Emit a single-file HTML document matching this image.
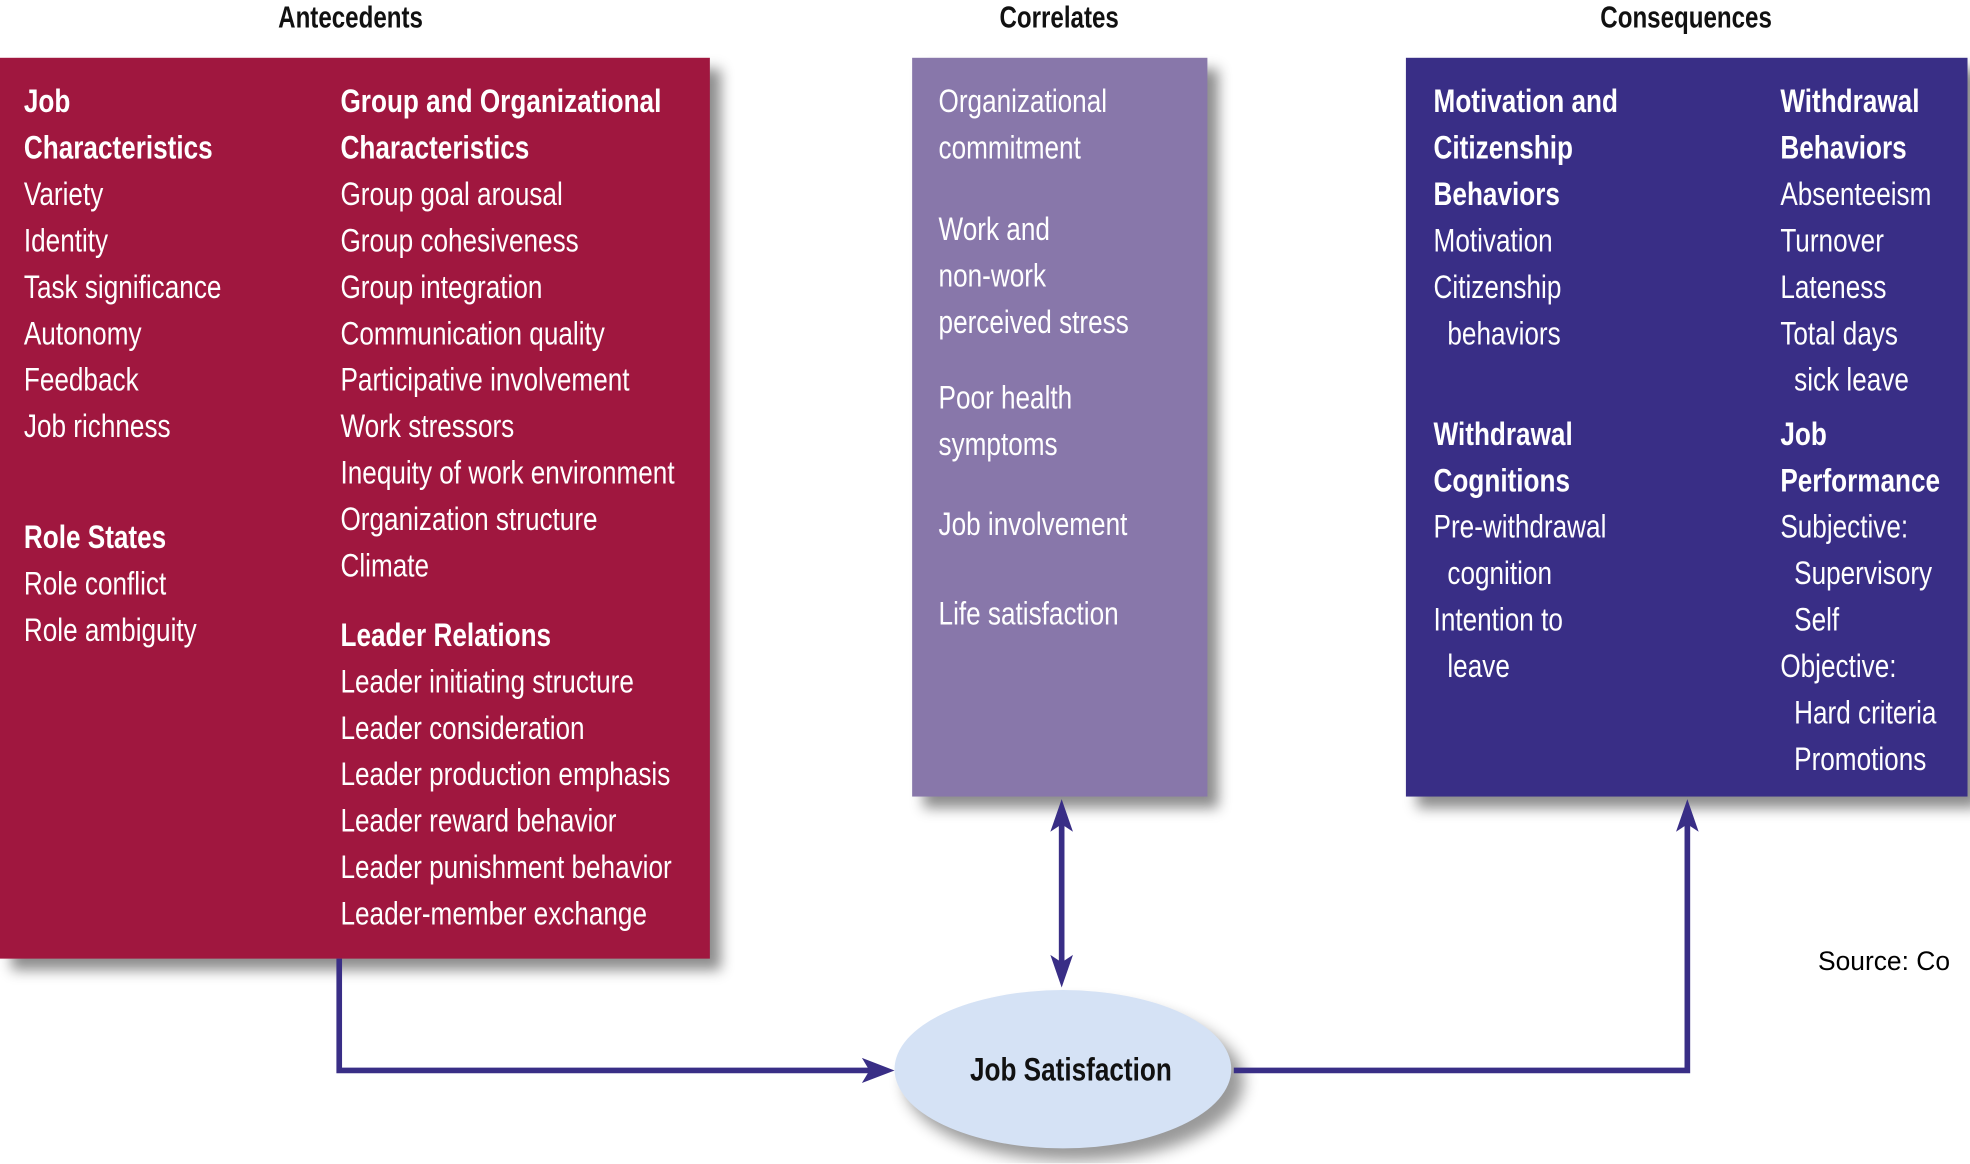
<!DOCTYPE html>
<html><head><meta charset="utf-8"><style>
html,body{margin:0;padding:0;background:#fff;overflow:hidden}
#wrap{position:absolute;left:0;top:0;width:1568px;height:926px;transform:scale(1.2564);transform-origin:0 0;font-family:"Liberation Sans Narrow","Liberation Sans",sans-serif}
.box{position:absolute;box-shadow:9px 9px 10px rgba(0,0,0,.45)}
.t{position:absolute;white-space:nowrap;color:#fff;font-size:26px;line-height:30px;transform:scaleX(.8);transform-origin:0 50%}
.b{font-weight:bold}
.h{position:absolute;white-space:nowrap;font-size:24px;font-weight:bold;color:#111;transform:translateX(-50%) scaleX(.8);}
</style></head><body><div id="wrap">
<div class="h" style="left:279px;top:1px">Antecedents</div>
<div class="h" style="left:843px;top:1px">Correlates</div>
<div class="h" style="left:1342px;top:1px">Consequences</div>

<div class="box" style="left:0;top:46px;width:565px;height:717px;background:#a0173f"></div>
<div class="box" style="left:726px;top:46px;width:235px;height:588px;background:#8877aa"></div>
<div class="box" style="left:1119px;top:46px;width:447px;height:588px;background:#392e86"></div>

<svg style="position:absolute;left:0;top:0" width="1568" height="926">
<defs><filter id="sh" x="-20%" y="-20%" width="150%" height="150%"><feGaussianBlur stdDeviation="6"/></filter></defs>
<ellipse cx="855" cy="861" rx="135" ry="63" fill="#000" opacity=".4" filter="url(#sh)"/>
<ellipse cx="846" cy="851" rx="134" ry="63" fill="#d5e2f5"/>
<g stroke="#392e86" stroke-width="4.5" fill="none">
<polyline points="270,763 270,852 695,852"/>
<line x1="845" y1="652" x2="845" y2="770"/>
<polyline points="982,852 1343,852 1343,652"/>
</g>
<g fill="#392e86">
<polygon points="712,852 686,842 692,852 686,862"/>
<polygon points="845,636 836,662 845,656 854,662"/>
<polygon points="845,786 836,760 845,766 854,760"/>
<polygon points="1343,636 1334,662 1343,656 1352,662"/>
</g>
</svg>
<div class="t b" style="left:772px;top:836px;color:#111;font-size:26px">Job Satisfaction</div>
<div style="position:absolute;left:1447px;top:754px;font-family:'Liberation Sans',sans-serif;font-size:21px;color:#000;white-space:nowrap">Source: Co</div>

<!-- red left col -->
<div class="t b" style="left:19px;top:65px">Job</div>
<div class="t b" style="left:19px;top:102px">Characteristics</div>
<div class="t" style="left:19px;top:139px">Variety</div>
<div class="t" style="left:19px;top:176px">Identity</div>
<div class="t" style="left:19px;top:213px">Task significance</div>
<div class="t" style="left:19px;top:250px">Autonomy</div>
<div class="t" style="left:19px;top:287px">Feedback</div>
<div class="t" style="left:19px;top:324px">Job richness</div>
<div class="t b" style="left:19px;top:412px">Role States</div>
<div class="t" style="left:19px;top:449px">Role conflict</div>
<div class="t" style="left:19px;top:486px">Role ambiguity</div>
<!-- red right col -->
<div class="t b" style="left:271px;top:65px">Group and Organizational</div>
<div class="t b" style="left:271px;top:102px">Characteristics</div>
<div class="t" style="left:271px;top:139px">Group goal arousal</div>
<div class="t" style="left:271px;top:176px">Group cohesiveness</div>
<div class="t" style="left:271px;top:213px">Group integration</div>
<div class="t" style="left:271px;top:250px">Communication quality</div>
<div class="t" style="left:271px;top:287px">Participative involvement</div>
<div class="t" style="left:271px;top:324px">Work stressors</div>
<div class="t" style="left:271px;top:361px">Inequity of work environment</div>
<div class="t" style="left:271px;top:398px">Organization structure</div>
<div class="t" style="left:271px;top:435px">Climate</div>
<div class="t b" style="left:271px;top:490px">Leader Relations</div>
<div class="t" style="left:271px;top:527px">Leader initiating structure</div>
<div class="t" style="left:271px;top:564px">Leader consideration</div>
<div class="t" style="left:271px;top:601px">Leader production emphasis</div>
<div class="t" style="left:271px;top:638px">Leader reward behavior</div>
<div class="t" style="left:271px;top:675px">Leader punishment behavior</div>
<div class="t" style="left:271px;top:712px">Leader-member exchange</div>
<!-- purple -->
<div class="t" style="left:747px;top:65px">Organizational</div>
<div class="t" style="left:747px;top:102px">commitment</div>
<div class="t" style="left:747px;top:167px">Work and</div>
<div class="t" style="left:747px;top:204px">non-work</div>
<div class="t" style="left:747px;top:241px">perceived stress</div>
<div class="t" style="left:747px;top:301px">Poor health</div>
<div class="t" style="left:747px;top:338px">symptoms</div>
<div class="t" style="left:747px;top:402px">Job involvement</div>
<div class="t" style="left:747px;top:473px">Life satisfaction</div>
<!-- blue col1 -->
<div class="t b" style="left:1141px;top:65px">Motivation and</div>
<div class="t b" style="left:1141px;top:102px">Citizenship</div>
<div class="t b" style="left:1141px;top:139px">Behaviors</div>
<div class="t" style="left:1141px;top:176px">Motivation</div>
<div class="t" style="left:1141px;top:213px">Citizenship</div>
<div class="t" style="left:1152px;top:250px">behaviors</div>
<div class="t b" style="left:1141px;top:330px">Withdrawal</div>
<div class="t b" style="left:1141px;top:367px">Cognitions</div>
<div class="t" style="left:1141px;top:404px">Pre-withdrawal</div>
<div class="t" style="left:1152px;top:441px">cognition</div>
<div class="t" style="left:1141px;top:478px">Intention to</div>
<div class="t" style="left:1152px;top:515px">leave</div>
<!-- blue col2 -->
<div class="t b" style="left:1417px;top:65px">Withdrawal</div>
<div class="t b" style="left:1417px;top:102px">Behaviors</div>
<div class="t" style="left:1417px;top:139px">Absenteeism</div>
<div class="t" style="left:1417px;top:176px">Turnover</div>
<div class="t" style="left:1417px;top:213px">Lateness</div>
<div class="t" style="left:1417px;top:250px">Total days</div>
<div class="t" style="left:1428px;top:287px">sick leave</div>
<div class="t b" style="left:1417px;top:330px">Job</div>
<div class="t b" style="left:1417px;top:367px">Performance</div>
<div class="t" style="left:1417px;top:404px">Subjective:</div>
<div class="t" style="left:1428px;top:441px">Supervisory</div>
<div class="t" style="left:1428px;top:478px">Self</div>
<div class="t" style="left:1417px;top:515px">Objective:</div>
<div class="t" style="left:1428px;top:552px">Hard criteria</div>
<div class="t" style="left:1428px;top:589px">Promotions</div>
</div></body></html>
